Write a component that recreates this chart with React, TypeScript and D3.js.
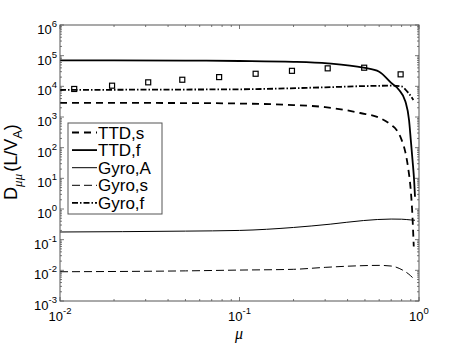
import * as d3 from "d3";

// --- data (mu, D_mumu) ---
const muTTDs = [0.01, 0.05, 0.1, 0.2, 0.3, 0.47, 0.6, 0.7, 0.75, 0.8, 0.84, 0.87, 0.9, 0.915, 0.935];
const valTTDs = [2900, 2850, 2750, 2450, 2100, 1350, 950, 550, 380, 180, 70, 22, 4, 1, 0.06];

const muTTDf = [0.01, 0.02, 0.05, 0.1, 0.2, 0.31, 0.49, 0.6, 0.7, 0.77, 0.84, 0.88, 0.9, 0.92, 0.94, 0.95];
const valTTDf = [70000, 70000, 69000, 67000, 63000, 56000, 40500, 30000, 13000, 7900, 3200, 800, 180, 40, 8, 2.5];

const muGyroA = [0.01, 0.05, 0.1, 0.2, 0.32, 0.49, 0.7, 0.8, 0.9, 0.95];
const valGyroA = [0.178, 0.19, 0.2, 0.25, 0.32, 0.42, 0.47, 0.465, 0.44, 0.43];

const muGyroS = [0.01, 0.05, 0.1, 0.2, 0.3, 0.45, 0.6, 0.7, 0.81, 0.87, 0.93];
const valGyroS = [0.009, 0.0096, 0.0102, 0.0108, 0.0125, 0.014, 0.0145, 0.0138, 0.0102, 0.0078, 0.0055];

const muGyroF = [0.01, 0.03, 0.1, 0.3, 0.5, 0.7, 0.8, 0.86, 0.9, 0.93];
const valGyroF = [7600, 7800, 8000, 9300, 10200, 10500, 9900, 6700, 4800, 3600];

const muSquares = [0.012, 0.0195, 0.031, 0.048, 0.077, 0.123, 0.196, 0.31, 0.495, 0.79];
const valSquares = [8200, 10500, 13500, 16400, 20000, 25700, 32000, 38600, 40500, 24600];

const yTickExps = [-3, -2, -1, 0, 1, 2, 3, 4, 5, 6];
const xTickExps = [-2, -1, 0];
const legendLabels = ["TTD,s", "TTD,f", "Gyro,A", "Gyro,s", "Gyro,f"];

const W = 463;
const H = 344;
const plot = { left: 60, right: 419, top: 25, bottom: 301 };
const axisColor = "#555";
const font = "Liberation Sans, Arial, Helvetica, sans-serif";

const styles = [
  { width: 1.8, dash: "7,5" },
  { width: 1.8, dash: null },
  { width: 1, dash: null },
  { width: 1, dash: "8,4" },
  { width: 1.8, dash: "6,2,1.5,2" },
];

export default function App() {
  const x = d3.scaleLog().domain([0.01, 1]).range([plot.left, plot.right]);
  const y = d3.scaleLog().domain([1e-3, 1e6]).range([plot.bottom, plot.top]);

  const line = d3
    .line<[number, number]>()
    .x(d => x(d[0]))
    .y(d => y(d[1]))
    .curve(d3.curveMonotoneX);

  const series: [number[], number[]][] = [
    [muTTDs, valTTDs],
    [muTTDf, valTTDf],
    [muGyroA, valGyroA],
    [muGyroS, valGyroS],
    [muGyroF, valGyroF],
  ];

  // minor ticks
  const xMinor: number[] = [];
  for (const e of [-2, -1]) for (let k = 2; k <= 9; k++) xMinor.push(k * Math.pow(10, e));
  const yMinor: number[] = [];
  for (let e = -3; e < 6; e++) for (let k = 2; k <= 9; k++) yMinor.push(k * Math.pow(10, e));

  const lx0 = 68, lx1 = 162, ly0 = 123, ly1 = 214;

  return (
    <svg width={W} height={H} style={{ position: "absolute", left: 0, top: 0, background: "white" }}>
      <rect x={0} y={0} width={W} height={H} fill="white" />
      <defs>
        <clipPath id="plotclip">
          <rect x={plot.left} y={plot.top} width={plot.right - plot.left} height={plot.bottom - plot.top} />
        </clipPath>
      </defs>

      {/* ticks */}
      <g stroke={axisColor} strokeWidth={0.8}>
        {xTickExps.map(e => (
          <g key={"xt" + e}>
            <line x1={x(Math.pow(10, e))} x2={x(Math.pow(10, e))} y1={plot.bottom} y2={plot.bottom - 4} />
            <line x1={x(Math.pow(10, e))} x2={x(Math.pow(10, e))} y1={plot.top} y2={plot.top + 4} />
          </g>
        ))}
        {xMinor.map((v, i) => (
          <g key={"xm" + i}>
            <line x1={x(v)} x2={x(v)} y1={plot.bottom} y2={plot.bottom - 2} />
            <line x1={x(v)} x2={x(v)} y1={plot.top} y2={plot.top + 2} />
          </g>
        ))}
        {yTickExps.map(e => (
          <g key={"yt" + e}>
            <line x1={plot.left} x2={plot.left + 4} y1={y(Math.pow(10, e))} y2={y(Math.pow(10, e))} />
            <line x1={plot.right} x2={plot.right - 4} y1={y(Math.pow(10, e))} y2={y(Math.pow(10, e))} />
          </g>
        ))}
        {yMinor.map((v, i) => (
          <g key={"ym" + i}>
            <line x1={plot.left} x2={plot.left + 2} y1={y(v)} y2={y(v)} />
            <line x1={plot.right} x2={plot.right - 2} y1={y(v)} y2={y(v)} />
          </g>
        ))}
      </g>

      {/* curves */}
      <g clipPath="url(#plotclip)" fill="none" stroke="black">
        {series.map(([mu, val], i) => (
          <path
            key={i}
            d={line(mu.map((m, j) => [m, val[j]] as [number, number])) || ""}
            strokeWidth={styles[i].width}
            strokeDasharray={styles[i].dash || undefined}
          />
        ))}
        {muSquares.map((m, i) => (
          <rect
            key={"sq" + i}
            x={x(m) - 2.5}
            y={y(valSquares[i]) - 2.5}
            width={5}
            height={5}
            strokeWidth={1.2}
            fill="none"
          />
        ))}
      </g>

      {/* box */}
      <rect
        x={plot.left}
        y={plot.top}
        width={plot.right - plot.left}
        height={plot.bottom - plot.top}
        fill="none"
        stroke={axisColor}
        strokeWidth={1}
      />

      {/* tick labels */}
      <g fontFamily={font} fill="black">
        {yTickExps.map(e => (
          <text key={"yl" + e} x={57} y={y(Math.pow(10, e)) + 9} textAnchor="end" fontSize={13}>
            10
            <tspan dy={-7} fontSize={9.5}>{e}</tspan>
          </text>
        ))}
        {xTickExps.map(e => (
          <text key={"xl" + e} x={x(Math.pow(10, e))} y={321} textAnchor="middle" fontSize={13}>
            10
            <tspan dy={-7} fontSize={9.5}>{e}</tspan>
          </text>
        ))}
      </g>

      {/* axis labels */}
      <text
        x={239}
        y={339}
        textAnchor="middle"
        fontFamily="Liberation Serif, serif"
        fontStyle="italic"
        fontSize={16}
      >
        μ
      </text>
      <text
        transform="translate(16.5,162) rotate(-90)"
        textAnchor="middle"
        fontFamily={font}
        fontSize={18}
      >
        D
        <tspan dy={5} fontSize={13} fontFamily="Liberation Serif, serif" fontStyle="italic">μμ</tspan>
        <tspan dy={-5} dx={2}>(L/V</tspan>
        <tspan dy={5} fontSize={13}>A</tspan>
        <tspan dy={-5}>)</tspan>
      </text>

      {/* legend */}
      <rect x={lx0} y={ly0} width={lx1 - lx0} height={ly1 - ly0} fill="white" stroke={axisColor} strokeWidth={1} />
      {legendLabels.map((lab, i) => {
        const cy = 132.5 + i * 17.6;
        return (
          <g key={lab}>
            <line
              x1={72}
              x2={97}
              y1={cy}
              y2={cy}
              stroke="black"
              strokeWidth={styles[i].width}
              strokeDasharray={styles[i].dash || undefined}
            />
            <text x={98} y={cy + 6} fontFamily={font} fontSize={17}>
              {lab}
            </text>
          </g>
        );
      })}
    </svg>
  );
}
